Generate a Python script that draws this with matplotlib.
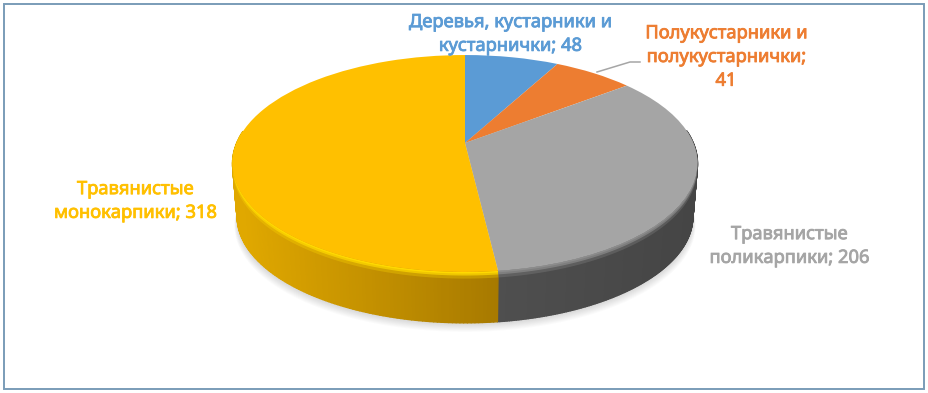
import numpy as np
import matplotlib
matplotlib.use("Agg")
import matplotlib.pyplot as plt
import matplotlib.patheffects as pe
from matplotlib.collections import PolyCollection
from matplotlib.patches import Rectangle
from matplotlib.transforms import Transform

labels = ["Деревья, кустарники и\nкустарнички", "Полукустарники и\nполукустарнички;\n", "Травянистые\nполикарпики", "Травянистые\nмонокарпики"]
values = [48, 41, 206, 318]
colors = ["#5B9BD5", "#ED7D31", "#A5A5A5", "#FFC000"]
label_pos = [(510, 34), (726, 57), (789, 246), (135, 201)]

# pixel geometry of the tilted disc
cx, cy = 465, 143
A, B, k = 228.3, 104.6, 0.189
mid_y = 163.5
depth = 53
shrink = 0.98


def project(u, v):
    d = 1 + k * v
    return cx + A * u / d, cy - B * v / d


def lower(x, y):
    return cx + (x - cx) * shrink, mid_y + (y - mid_y) * shrink + depth


class Tilt(Transform):
    input_dims = 2
    output_dims = 2
    is_separable = False

    def transform_non_affine(self, values):
        x, y = project(values[:, 0], values[:, 1])
        return np.column_stack([x, y])


fig = plt.figure(figsize=(9.29, 3.93), dpi=100)
ax = fig.add_axes([0, 0, 1, 1])

wedges, _ = ax.pie(values, colors=colors, startangle=90, counterclock=False, radius=1)
ax.set_aspect("auto")
ax.set_xlim(0, 929)
ax.set_ylim(393, 0)
ax.axis("off")

tilt = Tilt()
for w in wedges:
    w.set_transform(tilt + ax.transData)
    w.set_zorder(5)
    w.set_edgecolor("none")

# soft shadow under the disc
t = np.linspace(0, 2 * np.pi, 361)
sx, sy = lower(*project(np.sin(t), np.cos(t)))
for off in range(1, 11):
    ax.fill(cx + (sx - cx) * (1 + off * 0.0012), sy + off * 0.9, color="#606060", alpha=0.022, lw=0, zorder=1)

# side wall, shaded along x
edges = np.cumsum([0] + values) / sum(values) * 2 * np.pi
wall_cols = {2: ((0.31, 0.31, 0.31), (0.27, 0.27, 0.27)), 3: ((0.88, 0.66, 0.0), (0.66, 0.48, 0.0))}
rim_cols = {2: (0.55, 0.55, 0.55), 3: (1.0, 0.85, 0.0)}
bands = [0.13, 0.07, 0.03]
mixes = [0.3, 0.7, 1.0]
for i in (2, 3):
    ang = np.linspace(edges[i], edges[i + 1], 240)
    ang = ang[np.cos(ang) < 0.12]  # the back of the wall is hidden anyway
    x0, y0 = project(np.sin(ang), np.cos(ang))
    x1, y1 = lower(x0, y0)
    polys, fc = [], []
    for j in range(len(ang) - 1):
        # position along the front of the slice
        if i == 3:
            f = np.clip((x0[j] - 240) / 255, 0, 1)
        else:
            f = np.clip((x0[j] - 497) / 200, 0, 1)
        base = np.array(wall_cols[i][0]) * (1 - f) + np.array(wall_cols[i][1]) * f
        polys.append([(x0[j], y0[j]), (x0[j + 1], y0[j + 1]), (x1[j + 1], y1[j + 1]), (x1[j], y1[j])])
        fc.append(tuple(base))
    ax.add_collection(PolyCollection(polys, facecolors=fc, edgecolors=fc, linewidths=1.0, zorder=3))
    # lit rim along the top edge, outer band first
    for b in range(len(mixes)):
        tb = bands[b]
        rx = np.concatenate([x0, (x0 + (x1 - x0) * tb)[::-1]])
        ry = np.concatenate([y0, (y0 + (y1 - y0) * tb)[::-1]])
        ax.fill(rx, ry, color=rim_cols[i], alpha=mixes[b], lw=0, zorder=4)

# leader line of the orange label
ax.plot([597, 630, 640], [72, 62, 62], color="#A6A6A6", lw=1.1, zorder=6)

for name, val, col, (px, py) in zip(labels, values, colors, label_pos):
    sep = "" if name.endswith("\n") else "; "
    txt = ax.text(px, py, name + sep + str(val), color=col, ha="center", va="center", family="Noto Sans",
                  fontsize=13.2, linespacing=1.41, zorder=7)
    txt.set_path_effects([pe.withStroke(linewidth=0.6, foreground=col)])

ax.add_patch(Rectangle((4, 3.5), 920, 385, fill=False, ec="#7A9CB8", lw=1.4, zorder=8))

fig.savefig("out.png", dpi=100)
